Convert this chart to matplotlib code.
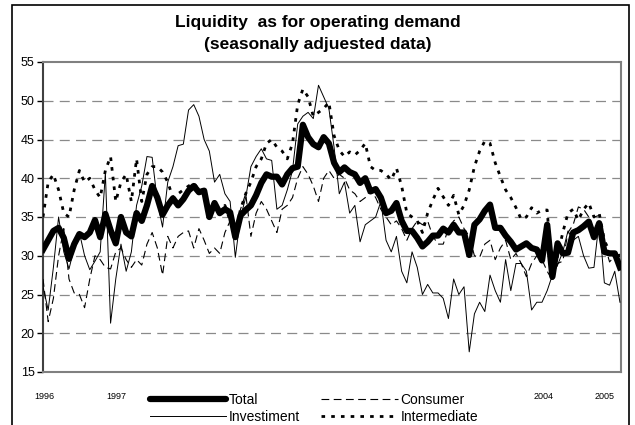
import matplotlib
matplotlib.use("Agg")
import matplotlib.pyplot as plt
from matplotlib.lines import Line2D
from matplotlib.patches import Rectangle
import numpy as np

plt.rcParams['font.family'] = ['Liberation Sans', 'DejaVu Sans']

title_lines = ["Liquidity  as for operating demand", "(seasonally adjuested data)"]
year_labels = ["1996", "1997", "1998", "1999", "2000", "2001", "2002", "2003", "2004", "2005"]
# labels hidden behind the legend box in the reference
hidden_years = ["1998", "1999", "2000", "2001", "2002", "2003"]

total = [30.8, 32.0, 33.2, 33.6, 32.3, 29.6, 31.5, 32.8, 32.4, 33.0,
         34.6, 32.4, 35.4, 33.3, 31.6, 35.0, 33.0, 32.5, 35.5, 34.5,
         36.5, 39.0, 37.5, 35.3, 36.5, 37.4, 36.5, 37.3, 38.4, 39.0,
         38.2, 38.4, 35.0, 36.8, 35.5, 36.0, 35.6, 32.4, 35.2, 35.9,
         36.5, 37.8, 39.4, 40.5, 40.2, 40.2, 39.2, 40.5, 41.3, 41.5,
         46.9, 45.3, 44.4, 44.0, 45.3, 44.5, 42.0, 40.8, 41.4, 40.8,
         40.5, 39.4, 40.0, 38.3, 38.6, 37.5, 35.5, 35.8, 36.8, 34.5,
         33.2, 33.2, 32.3, 31.2, 31.8, 32.6, 32.6, 33.5, 33.0, 34.0,
         33.0, 33.0, 30.1, 34.0, 34.7, 35.8, 36.6, 33.6, 33.6, 32.6,
         31.8, 30.8, 31.2, 31.6, 31.0, 30.8, 29.4, 34.0, 27.3, 31.6,
         30.3, 30.4, 33.0, 33.3, 33.8, 34.4, 32.4, 34.2, 30.5, 30.3,
         30.3, 28.5]

consumer = [27.0, 21.5, 24.5, 30.0, 33.5, 27.0, 25.2, 25.0, 23.3, 27.0,
            30.0, 29.5, 28.5, 28.3, 30.5, 31.0, 29.5, 28.5, 29.5, 28.8,
            31.5, 33.0, 31.0, 27.5, 32.5, 31.0, 32.5, 33.0, 33.2, 31.0,
            33.5, 32.0, 30.3, 31.0, 30.3, 33.0, 34.5, 33.0, 36.0, 38.0,
            32.5, 35.5, 37.0, 36.0, 34.5, 33.0, 36.0, 36.5, 37.5, 40.0,
            41.5, 40.5, 39.0, 37.0, 40.0, 41.0, 40.0, 40.5, 40.0, 38.5,
            38.0, 37.0, 37.5, 38.5, 37.5, 36.0, 35.0, 34.0, 34.5, 33.5,
            32.0, 33.5, 34.5, 34.0, 34.5, 32.5, 31.5, 31.5, 33.5, 34.5,
            35.0, 33.5, 32.5, 30.0, 29.8, 31.5, 32.0, 29.5, 31.0, 32.0,
            29.5, 30.3, 29.0, 27.3, 29.0, 30.0, 29.5, 28.0, 26.8, 29.0,
            29.3, 33.0, 34.0, 36.3, 36.0, 35.0, 35.0, 35.2, 31.6, 29.2,
            30.0, 30.2]

investiment = [26.0, 23.0, 28.5, 35.0, 30.5, 28.3, 31.0, 33.0, 30.0, 28.2,
               29.3, 30.5, 40.7, 21.3, 27.0, 31.5, 28.0, 30.5, 36.5, 39.0,
               42.8, 42.7, 37.0, 33.7, 39.5, 41.5, 44.2, 44.4, 48.8, 49.5,
               48.0, 45.0, 43.5, 39.5, 40.5, 38.0, 37.0, 29.8, 35.0, 37.5,
               41.5, 42.8, 43.8, 42.5, 42.3, 36.0, 36.5, 38.5, 41.0, 47.0,
               48.0, 48.5, 47.7, 52.0, 50.5, 49.0, 44.0, 38.0, 39.5, 35.5,
               36.5, 31.8, 34.0, 34.5, 35.0, 37.0, 32.0, 30.5, 32.5, 28.0,
               26.5, 30.5, 28.5, 25.0, 26.3, 25.2, 25.2, 24.5, 21.9, 27.0,
               25.0, 26.0, 17.6, 22.5, 24.0, 22.8, 27.5, 25.5, 24.0, 29.5,
               25.5, 29.0, 29.0, 28.0, 23.0, 24.0, 24.0, 25.5, 27.5, 28.8,
               30.5, 33.2, 32.0, 32.5, 30.0, 28.4, 28.5, 34.5, 26.5, 26.2,
               28.0, 24.0]

intermediate = [35.0, 39.5, 40.5, 38.5, 35.5, 35.0, 38.5, 41.0, 39.5, 40.0,
                38.5, 37.5, 41.0, 42.8, 37.0, 39.5, 40.5, 37.0, 42.5, 37.0,
                40.5, 41.5, 41.5, 40.8, 39.5, 37.5, 38.0, 38.5, 39.0, 39.4,
                38.5, 38.5, 35.0, 37.0, 35.5, 36.5, 34.5, 33.0, 36.0, 38.0,
                39.5, 41.5, 42.5, 44.5, 45.0, 44.0, 43.5, 42.5, 44.5, 49.5,
                51.5, 50.5, 48.0, 48.5, 49.0, 49.8, 45.5, 43.6, 42.8, 43.4,
                43.0, 43.6, 44.5, 41.5, 41.0, 41.0, 40.5, 39.8, 41.3, 39.0,
                35.5, 35.0, 34.5, 33.0, 35.5, 37.2, 38.7, 37.6, 36.5, 37.8,
                35.3, 36.5, 38.5, 41.5, 43.5, 44.8, 44.5, 42.0, 40.2, 38.5,
                37.5, 36.2, 34.7, 35.0, 36.2, 35.5, 35.9, 35.9, 26.7, 30.0,
                33.0, 35.5, 36.0, 34.6, 36.0, 36.8, 35.0, 35.5, 32.0, 30.5,
                30.0, 30.0]

W, H = 635, 425
fig = plt.figure(figsize=(W / 100, H / 100), dpi=100)
ax = fig.add_axes([43 / W, 1 - 372 / H, (621 - 43) / W, (372 - 62) / H])

x = np.arange(len(total))
ax.plot(x, investiment, color='black', lw=0.7, zorder=3)
ax.plot(x, consumer, color='black', lw=0.8, dashes=(7, 4), zorder=3)
ax.plot(x, intermediate, color='black', lw=2.0, dashes=(1.3, 2.2), zorder=3)
ax.plot(x, total, color='black', lw=4.5, solid_joinstyle='round', zorder=4)

ax.set_xlim(0, len(total) - 1 + 0.2)
ax.set_ylim(15, 55)
ax.set_yticks(range(15, 56, 5))
for v in range(20, 55, 5):
    ax.axhline(v, color='#8a8a8a', lw=0.9, dashes=(8, 5), zorder=1)

for s in ['top', 'right', 'bottom']:
    ax.spines[s].set_color('#808080')
    ax.spines[s].set_linewidth(1.5)
ax.spines['left'].set_color('#404040')
ax.spines['left'].set_linewidth(1.5)
ax.tick_params(axis='y', direction='out', length=4, width=1, labelsize=9, pad=2, colors='black')
ax.tick_params(axis='x', bottom=False, labelbottom=False)

year_pos = [0.2] + [14.2 + 11.72 * k for k in range(9)]
for lab, p in zip(year_labels, year_pos):
    if lab in hidden_years:
        continue
    ax.text(p, -0.078, lab, transform=ax.get_xaxis_transform(), ha='center', va='center',
            fontsize=6.5, clip_on=False, zorder=0)

fig.text(0.5, 1 - 23 / H, title_lines[0], ha='center', va='center',
         fontsize=12.5, fontweight='bold')
fig.text(0.5, 1 - 45 / H, title_lines[1], ha='center', va='center',
         fontsize=12.5, fontweight='bold')

h_total = Line2D([], [], color='black', lw=4.5, solid_capstyle='round')
h_cons = Line2D([], [], color='black', lw=0.8, dashes=(7, 4))
h_inv = Line2D([], [], color='black', lw=0.7)
h_int = Line2D([], [], color='black', lw=2.0, dashes=(1.3, 2.2))
leg = fig.legend([h_total, h_inv, h_cons, h_int],
                 ["Total", "Investiment", "Consumer", "Intermediate"], ncol=2, loc='upper left',
                 bbox_to_anchor=(141 / W, 1 - 384 / H), frameon=True, fancybox=False,
                 edgecolor='white', facecolor='white', framealpha=1.0,
                 fontsize=10, handlelength=5.5, handletextpad=0.2,
                 columnspacing=1.5, labelspacing=0.2, borderpad=0.15)
leg.set_zorder(10)

fig.patches.append(Rectangle((12 / W, -0.02), (629 - 12) / W, 1 - 5 / H + 0.02,
                             transform=fig.transFigure, fill=False, edgecolor='black',
                             lw=1.2))

fig.savefig("out.png", dpi=100)
